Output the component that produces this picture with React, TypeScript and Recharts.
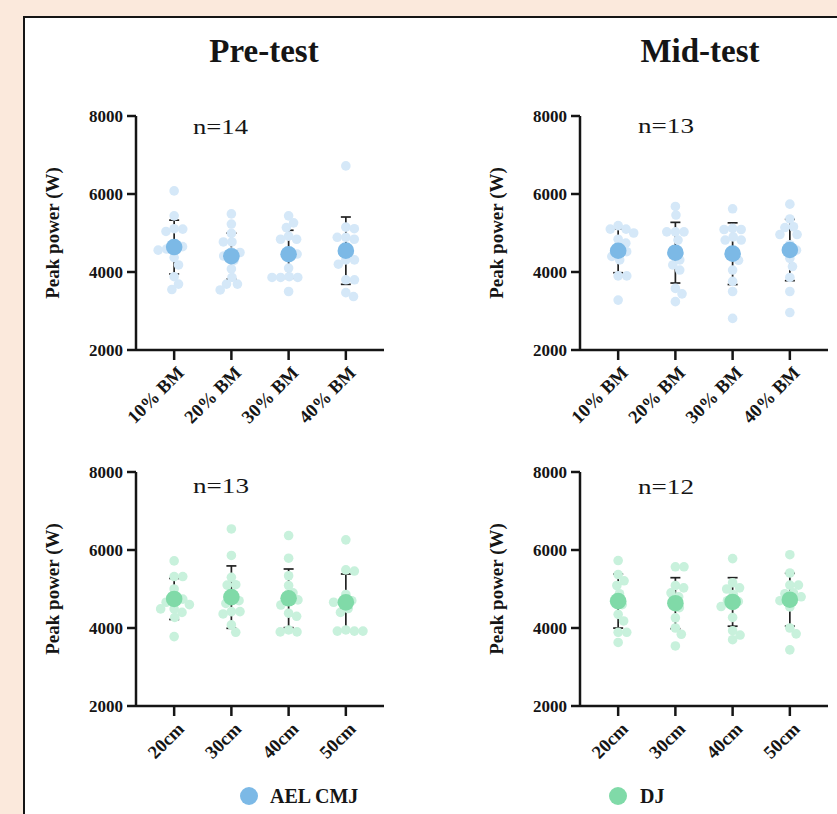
import React from "react";
import { ScatterChart, Scatter, XAxis, YAxis, ErrorBar } from "recharts";

const bmLabels = ["10% BM", "20% BM", "30% BM", "40% BM"];
const dropLabels = ["20cm", "30cm", "40cm", "50cm"];
const yTicks = [2000, 4000, 6000, 8000];

// AEL CMJ, pre-test (n=14), one list per load
const preCmjPoints = [
  [6080, 5440, 5110, 5100, 5040, 4700, 4650, 4590, 4370, 4180, 3880, 3690, 3550, 4560],
  [5490, 5230, 4990, 4770, 4770, 4510, 4500, 4410, 4080, 3860, 3690, 3690, 3540, 4300],
  [5440, 5260, 5140, 4920, 4840, 4840, 4460, 3860, 3860, 3860, 3880, 3500, 4500, 4100],
  [6720, 5150, 5110, 4890, 4890, 4840, 4310, 4310, 3800, 3800, 3470, 3370, 4550, 4200],
];
const preCmjMean = [4640, 4405, 4455, 4547];
const preCmjSd = [690, 590, 615, 863];

// AEL CMJ, mid-test (n=13)
const midCmjPoints = [
  [5190, 5100, 5100, 4840, 4740, 5000, 4520, 4310, 3900, 3900, 3280, 4550, 4400],
  [5680, 5460, 5030, 5030, 5030, 4820, 4310, 4180, 4050, 3580, 3440, 3240, 4500],
  [5620, 5120, 5090, 5090, 4820, 4820, 4900, 4050, 3760, 3500, 2810, 4460, 4300],
  [5740, 5360, 5160, 5140, 4960, 4960, 4350, 4140, 3860, 3500, 2960, 4560, 4700],
];
const midCmjMean = [4545, 4495, 4470, 4564];
const midCmjSd = [564, 778, 791, 786];

// DJ, pre-test (n=13), one list per drop height
const preDjPoints = [
  [5720, 5320, 5320, 4740, 4660, 4490, 4490, 4270, 3780, 4740, 5000, 4600, 4400],
  [6540, 5860, 5110, 5100, 4630, 4360, 4420, 4420, 4080, 3890, 4800, 4700, 5300],
  [6370, 5790, 5340, 5090, 4720, 4590, 4380, 3900, 3900, 3950, 4760, 4900, 4300],
  [6260, 5490, 5460, 4860, 4660, 4660, 4400, 3920, 3920, 3920, 3950, 4700, 4500],
];
const preDjMean = [4745, 4792, 4761, 4658];
const preDjSd = [526, 800, 752, 727];

// DJ, mid-test (n=12)
const midDjPoints = [
  [5730, 5370, 5210, 5090, 4880, 4350, 4180, 3890, 3890, 3630, 4700, 4600],
  [5570, 5570, 5090, 5030, 4520, 4260, 4000, 3840, 3540, 4800, 4650, 4900],
  [5780, 5160, 5030, 4860, 4700, 4270, 3930, 3820, 3700, 4680, 4550, 5000],
  [5880, 5410, 5100, 5100, 4880, 4800, 4540, 4000, 3850, 3440, 4700, 4900],
];
const midDjMean = [4689, 4636, 4668, 4725];
const midDjSd = [691, 654, 622, 677];

const SERIF = "Liberation Serif, Tinos, Times New Roman, Times, DejaVu Serif, serif";
const INK = "#151515";
const BLUE = "#7cb9e6";
const BLUE_DOT = "#d5e8f8";
const GREEN = "#80daa8";
const GREEN_DOT = "#c8f1dc";

const PLOT_W = 248;
const PLOT_H = 234;
const AXIS_W = 106;
const X_AXIS_H = 90;
const PX_PER_W = PLOT_H / 6000;
const PX_PER_CAT = PLOT_W / (14 / 3 - 1 / 3);
const DOT_R = 4.8;
const GAP = 8.6; // min centre distance in the swarm, dots overlap a little

// simple beeswarm so the dots of one group sit side by side
function swarm(values: number[], cat: number) {
  const placed: { dx: number; y: number }[] = [];
  const out: { x: number; y: number }[] = [];
  const sorted = [...values].sort((a, b) => b - a);
  for (const v of sorted) {
    const y = v * PX_PER_W;
    const cands = [0];
    for (const p of placed) {
      const dy = Math.abs(p.y - y);
      if (dy < GAP) {
        const w = Math.sqrt(GAP * GAP - dy * dy);
        cands.push(p.dx + w, p.dx - w);
      }
    }
    cands.sort((a, b) => Math.abs(a) - Math.abs(b));
    let dx = 0;
    for (const c of cands) {
      if (placed.every((p) => (p.dx - c) ** 2 + (p.y - y) ** 2 >= GAP * GAP - 0.01)) {
        dx = c;
        break;
      }
    }
    placed.push({ dx, y });
    out.push({ x: cat + dx / PX_PER_CAT, y: v });
  }
  return out;
}

const YLabel = (props: any) => {
  const vb = props.viewBox || {};
  const x = vb.x + vb.width - 84;
  const y = vb.y + vb.height / 2;
  return (
    <text
      x={x}
      y={y}
      transform={`rotate(-90 ${x} ${y})`}
      textAnchor="middle"
      dominantBaseline="central"
      style={{ fontFamily: SERIF, fontWeight: "bold", fontSize: 19 }}
      fill={INK}
    >
      Peak power (W)
    </text>
  );
};

function Panel(props: {
  left: number;
  top: number;
  right: number;
  labels: string[];
  points: number[][];
  means: number[];
  sds: number[];
  dot: string;
  mean: string;
}) {
  const { left, top, right, labels, points, means, sds, dot, mean } = props;
  const pts = points.flatMap((vals, i) => swarm(vals, i + 1));
  const meanData = means.map((m, i) => ({ x: i + 1, y: m, sd: sds[i] }));

  return (
    <div style={{ position: "absolute", left, top }}>
      <ScatterChart
        width={AXIS_W + PLOT_W + right}
        height={16 + PLOT_H + X_AXIS_H}
        margin={{ top: 16, right, bottom: 0, left: 0 }}
      >
        <XAxis
          type="number"
          dataKey="x"
          domain={[1 / 3, 14 / 3]}
          ticks={[1, 2, 3, 4]}
          interval={0}
          allowDataOverflow
          height={X_AXIS_H}
          tickSize={10}
          axisLine={{ stroke: INK, strokeWidth: 2.5 }}
          tickLine={{ stroke: INK, strokeWidth: 2.5 }}
          tick={(t: any) => (
            <g transform={`translate(${t.x + 11},${t.y + 12})`}>
              <text
                x={0}
                y={0}
                textAnchor="end"
                transform="rotate(-45)"
                style={{ fontFamily: SERIF, fontWeight: "bold", fontSize: 18.5 }}
                fill={INK}
              >
                {labels[t.payload.value - 1]}
              </text>
            </g>
          )}
        />
        <YAxis
          type="number"
          dataKey="y"
          domain={[2000, 8000]}
          ticks={yTicks}
          interval={0}
          width={AXIS_W}
          tickSize={9}
          tickMargin={4}
          axisLine={{ stroke: INK, strokeWidth: 2.5 }}
          tickLine={{ stroke: INK, strokeWidth: 2.5 }}
          tick={{ style: { fontFamily: SERIF, fontWeight: "bold", fontSize: 17 }, fill: INK }}
          label={<YLabel />}
        />
        <Scatter
          data={pts}
          isAnimationActive={false}
          shape={(p: any) => <circle cx={p.cx} cy={p.cy} r={DOT_R} fill={dot} />}
        />
        <Scatter
          data={meanData}
          isAnimationActive={false}
          shape={(p: any) => <circle cx={p.cx} cy={p.cy} r={8.3} fill={mean} />}
        >
          <ErrorBar dataKey="sd" direction="y" width={5} stroke="#222" strokeWidth={1.7} />
        </Scatter>
      </ScatterChart>
    </div>
  );
}

export default function App() {
  return (
    <div
      style={{
        position: "absolute",
        left: 0,
        top: 0,
        width: 837,
        height: 814,
        overflow: "hidden",
        background: "#fbe9dc",
        fontFamily: SERIF,
      }}
    >
      <div
        style={{
          position: "absolute",
          left: 23,
          top: 16,
          width: 850,
          height: 850,
          background: "#fff",
          border: `2px solid ${INK}`,
          boxSizing: "border-box",
        }}
      />
      <Panel left={30} top={100} right={20} labels={bmLabels} points={preCmjPoints} means={preCmjMean} sds={preCmjSd} dot={BLUE_DOT} mean={BLUE} />
      <Panel left={474} top={100} right={4} labels={bmLabels} points={midCmjPoints} means={midCmjMean} sds={midCmjSd} dot={BLUE_DOT} mean={BLUE} />
      <Panel left={30} top={456} right={20} labels={dropLabels} points={preDjPoints} means={preDjMean} sds={preDjSd} dot={GREEN_DOT} mean={GREEN} />
      <Panel left={474} top={456} right={4} labels={dropLabels} points={midDjPoints} means={midDjMean} sds={midDjSd} dot={GREEN_DOT} mean={GREEN} />
      <svg
        width={837}
        height={814}
        style={{ position: "absolute", left: 0, top: 0, pointerEvents: "none", fontFamily: SERIF }}
        fill={INK}
      >
        <text x={264} y={62} textAnchor="middle" fontWeight="bold" fontSize={33}>Pre-test</text>
        <text x={700} y={62} textAnchor="middle" fontWeight="bold" fontSize={33}>Mid-test</text>
        <text x={193} y={134} fontSize={22} textLength={55} lengthAdjust="spacingAndGlyphs">n=14</text>
        <text x={638} y={133} fontSize={22} textLength={56} lengthAdjust="spacingAndGlyphs">n=13</text>
        <text x={193} y={493} fontSize={22} textLength={56} lengthAdjust="spacingAndGlyphs">n=13</text>
        <text x={638} y={494} fontSize={22} textLength={56} lengthAdjust="spacingAndGlyphs">n=12</text>
        <circle cx={249} cy={796} r={9} fill={BLUE} />
        <text x={270} y={803} fontWeight="bold" fontSize={20}>AEL CMJ</text>
        <circle cx={618} cy={796} r={9} fill={GREEN} />
        <text x={640} y={803} fontWeight="bold" fontSize={20}>DJ</text>
      </svg>
    </div>
  );
}
